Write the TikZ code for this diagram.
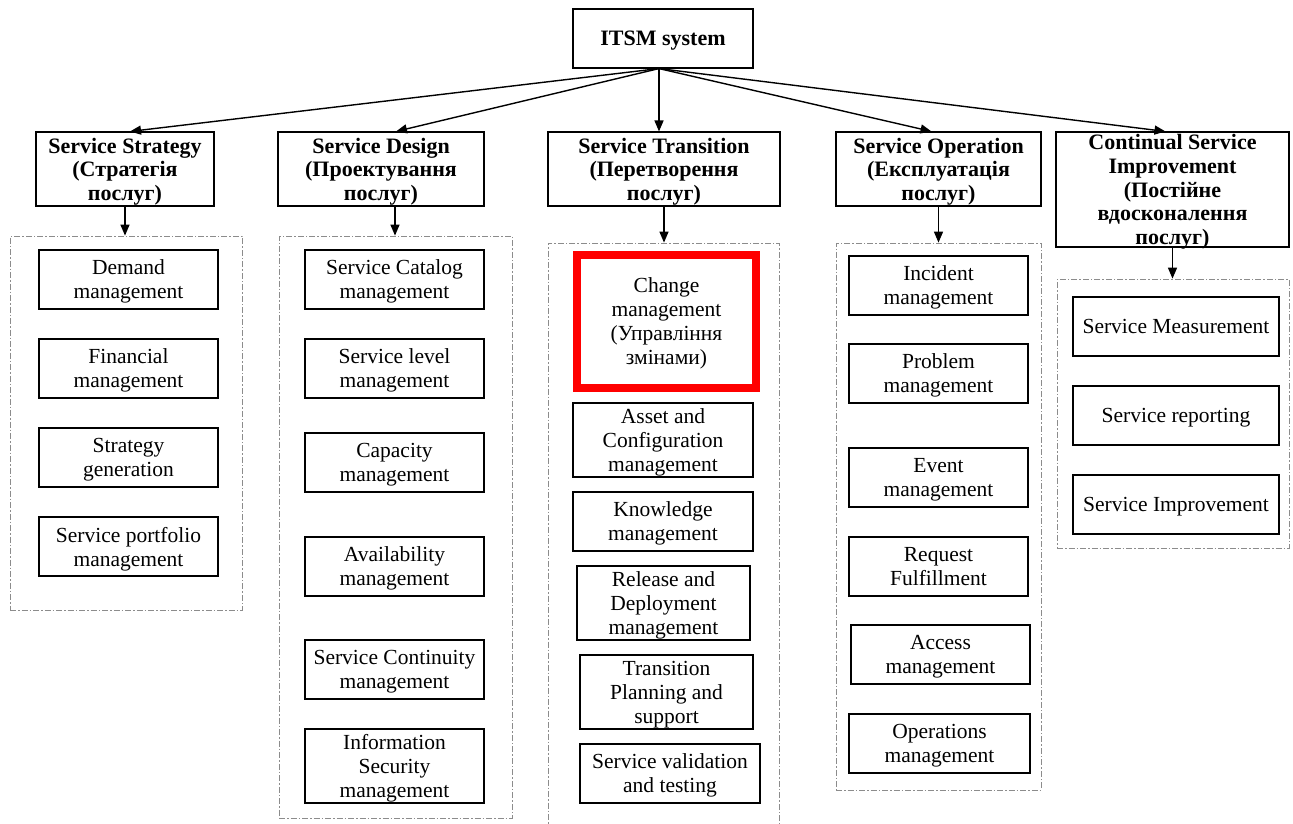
\documentclass[tikz,border=0pt]{standalone}
\usepackage{fontspec}
\setmainfont{Liberation Serif}
\usetikzlibrary{arrows.meta}
\begin{document}
\begin{tikzpicture}[x=1pt,y=-1pt,
  txt/.style={font=\fontsize{21.5}{24}\selectfont, align=center, inner sep=0pt, text depth=0pt},
  leaf/.style={txt, draw=black, line width=1.1pt, rectangle},
  head/.style={leaf, font=\fontsize{22}{23.6}\selectfont\bfseries},
  grp/.style={draw=black!45, line width=0.8pt, dash pattern=on 6pt off 2pt on 1.5pt off 2pt, inner sep=0pt},
  hot/.style={txt, draw=red, line width=8pt, rectangle},
  arr/.style={-{Triangle[length=11pt,width=9pt]}, line width=1.4pt}
]
\useasboundingbox (0,0) rectangle (1293,823);
\fill[white] (0,0) rectangle (1293,823);

% dashed group frames
\node[grp, minimum width=232, minimum height=374] (ssg) at (126,423) {};
\node[grp, minimum width=233, minimum height=582] (dsg) at (395.5,527) {};
\node[grp, minimum width=231, minimum height=600] (tsg) at (663.5,543) {};
\node[grp, minimum width=205, minimum height=547] (osg) at (938.5,516.5) {};
\node[grp, minimum width=232, minimum height=269] (csg) at (1173,413.5) {};

% root
\node[head, minimum width=180, minimum height=59] (itsm) at (663,38.5) {ITSM system};
\coordinate (root) at ([xshift=-4pt]itsm.south);

% lifecycle stages
\node[head, minimum width=178, minimum height=74] (ss) at (125,169) {Service Strategy\\(Стратегія\\послуг)};
\node[head, minimum width=206, minimum height=74] (ds) at (381,169) {Service Design\\(Проектування\\послуг)};
\node[head, minimum width=232, minimum height=74] (ts) at (664,169) {Service Transition\\(Перетворення\\послуг)};
\node[head, minimum width=205, minimum height=74] (os) at (938.5,169) {Service Operation\\(Експлуатація\\послуг)};
\node[head, minimum width=233, minimum height=115] (cs) at (1172.5,189.5) {Continual Service\\Improvement\\(Постійне\\вдосконалення\\послуг)};

% root to stages
\draw[arr] (root) -- ([xshift=5pt]ss.north);
\draw[arr] (root) -- ([xshift=15pt]ds.north);
\draw[arr] (root) -- (root |- ts.north);
\draw[arr] (root) -- ([xshift=-7pt]os.north);
\draw[arr] (root) -- ([xshift=-7pt]cs.north);

% stages to groups
\draw[arr] (ss.south) -- (ss.south |- ssg.north);
\draw[arr] ([xshift=14pt]ds.south) -- ([xshift=14pt]ds.south |- dsg.north);
\draw[arr] (ts.south) -- (ts.south |- tsg.north);
\draw[arr] (os.south) -- (os.south |- osg.north);
\draw[arr] (cs.south) -- (cs.south |- csg.north);

% Service Strategy processes
\node[leaf, minimum width=179, minimum height=59] (s1) at (128.5,279.5) {Demand\\management};
\node[leaf, minimum width=179, minimum height=59] (s2) at (128.5,368.5) {Financial\\management};
\node[leaf, minimum width=179, minimum height=59] (s3) at (128.5,457.5) {Strategy\\generation};
\node[leaf, minimum width=179, minimum height=59] (s4) at (128.5,546.5) {Service portfolio\\management};

% Service Design processes
\node[leaf, minimum width=179, minimum height=59] (d1) at (394.5,279.5) {Service Catalog\\management};
\node[leaf, minimum width=179, minimum height=59] (d2) at (394.5,368.5) {Service level\\management};
\node[leaf, minimum width=179, minimum height=59] (d3) at (394.5,462.5) {Capacity\\management};
\node[leaf, minimum width=179, minimum height=59] (d4) at (394.5,566.5) {Availability\\management};
\node[leaf, minimum width=179, minimum height=59] (d5) at (394.5,669.5) {Service Continuity\\management};
\node[leaf, minimum width=179, minimum height=74] (d6) at (394.5,766) {Information\\Security\\management};

% Service Transition processes
\node[hot, minimum width=179, minimum height=133] (t1) at (666.5,321.5) {Change\\management\\(Управління\\змінами)};
\node[leaf, minimum width=180, minimum height=74] (t2) at (663,440) {Asset and\\Configuration\\management};
\node[leaf, minimum width=180, minimum height=59] (t3) at (663,521.5) {Knowledge\\management};
\node[leaf, minimum width=173, minimum height=74] (t4) at (663.5,603) {Release and\\Deployment\\management};
\node[leaf, minimum width=173, minimum height=74] (t5) at (666.5,692) {Transition\\Planning and\\support};
\node[leaf, minimum width=180, minimum height=59] (t6) at (670,773.5) {Service validation\\and testing};

% Service Operation processes
\node[leaf, minimum width=179, minimum height=59] (o1) at (938.5,285.5) {Incident\\management};
\node[leaf, minimum width=179, minimum height=59] (o2) at (938.5,373.5) {Problem\\management};
\node[leaf, minimum width=179, minimum height=59] (o3) at (938.5,477.5) {Event\\management};
\node[leaf, minimum width=179, minimum height=59] (o4) at (938.5,566.5) {Request\\Fulfillment};
\node[leaf, minimum width=179, minimum height=59] (o5) at (940.5,654.5) {Access\\management};
\node[leaf, minimum width=181, minimum height=59] (o6) at (939.5,743.5) {Operations\\management};

% Continual Service Improvement processes
\node[leaf, minimum width=206, minimum height=59] (c1) at (1176,326.5) {Service Measurement};
\node[leaf, minimum width=206, minimum height=59] (c2) at (1176,415.5) {Service reporting};
\node[leaf, minimum width=206, minimum height=59] (c3) at (1176,504.5) {Service Improvement};
\end{tikzpicture}
\end{document}
